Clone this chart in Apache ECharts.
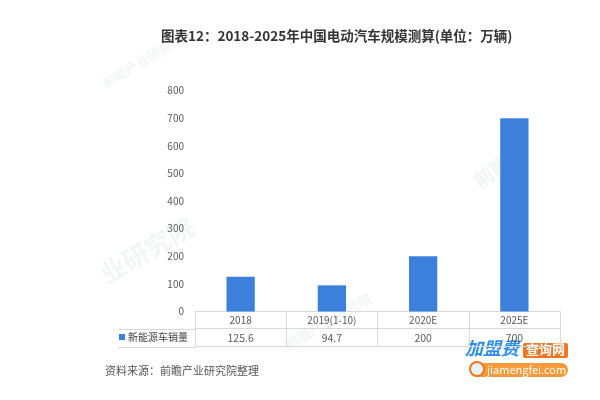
<!DOCTYPE html>
<html>
<head>
<meta charset="utf-8">
<script src="https://cdn.jsdelivr.net/npm/echarts@6/dist/echarts.min.js"></script>
<style>
  html, body { margin: 0; padding: 0; background: #fff; }
  #chart { width: 600px; height: 400px; }
</style>
</head>
<body>
<div id="chart"></div>
<script>
// Categories (years) and EV sales, unit: 10k vehicles
const categories = ['2018', '2019(1-10)', '2020E', '2025E'];
const sales = [125.6, 94.7, 200, 700];
const seriesName = '新能源车销量';
const yTicks = { min: 0, max: 800, interval: 100 };

const FONT = '"Noto Sans CJK SC", "Noto Sans", sans-serif';
const GRAY = '#595959';
const LINE = '#d9d9d9';
const BLUE = '#3d80dc';

const chart = echarts.init(document.getElementById('chart'));

// faint publisher watermark texts
function watermark(x, y, text, size, rot) {
  return {
    type: 'text', x: x, y: y, rotation: rot * Math.PI / 180, silent: true,
    style: { text: text, font: 'bold ' + size + 'px ' + FONT, fill: 'rgba(140,150,165,0.10)' }
  };
}

chart.setOption({
  backgroundColor: '#fff',
  title: {
    text: '图表12：2018-2025年中国电动汽车规模测算(单位：万辆)',
    left: 156, top: 24,
    textStyle: { fontFamily: FONT, fontSize: 13.5, fontWeight: 'bold', color: '#333' }
  },
  legend: {
    data: [seriesName],
    left: 119, top: 332, padding: 0,
    icon: 'rect', itemWidth: 6, itemHeight: 6, itemGap: 4,
    textStyle: { fontFamily: FONT, fontSize: 10, color: '#404040', padding: [0, 0, 0, -2] }
  },
  grid: { left: 195, right: 40, top: 90.5, bottom: 88.5 },
  xAxis: [
    {
      // header row of the data table: category labels
      type: 'category', data: categories, position: 'bottom',
      axisLine: { show: true, lineStyle: { color: LINE } },
      axisTick: { show: true, length: 35, alignWithLabel: false, interval: 0, lineStyle: { color: LINE } },
      axisLabel: { margin: 4, fontSize: 10, color: GRAY, fontFamily: FONT, interval: 0 }
    },
    {
      // value row of the data table
      type: 'category', data: categories, position: 'bottom', offset: 17,
      axisLine: { show: true, lineStyle: { color: LINE } },
      axisTick: { show: false },
      axisLabel: {
        margin: 4, fontSize: 10.5, color: GRAY, fontFamily: FONT, interval: 0,
        formatter: (v, i) => String(sales[i])
      }
    },
    {
      // bottom border of the table
      type: 'category', data: categories, position: 'bottom', offset: 35,
      axisLine: { show: true, lineStyle: { color: LINE } },
      axisTick: { show: false }, axisLabel: { show: false }
    }
  ],
  yAxis: {
    type: 'value', min: yTicks.min, max: yTicks.max, interval: yTicks.interval,
    axisLine: { show: false }, axisTick: { show: false }, splitLine: { show: false },
    axisLabel: { margin: 11, fontSize: 10, color: GRAY, fontFamily: FONT }
  },
  series: [{
    name: seriesName, type: 'bar', xAxisIndex: 0, data: sales,
    barWidth: '31%', itemStyle: { color: BLUE }
  }],
  graphic: [
    watermark(100, 78, '前瞻产业研究院', 13, 30),
    watermark(95, 265, '业研究院', 26, 30),
    watermark(282, 340, '前瞻产业研究院', 14, 30),
    watermark(470, 175, '前瞻', 20, 35),
    // legend cell borders to the left of the table columns
    { type: 'line', silent: true, shape: { x1: 118, y1: 329.5, x2: 195, y2: 329.5 }, style: { stroke: LINE, lineWidth: 1 } },
    { type: 'line', silent: true, shape: { x1: 118, y1: 347.5, x2: 195, y2: 347.5 }, style: { stroke: LINE, lineWidth: 1 } },
    // source note
    {
      type: 'text', x: 105, y: 365,
      style: { text: '资料来源：前瞻产业研究院整理', font: '11px ' + FONT, fill: '#555' }
    },
    // site badge, bottom right
    {
      type: 'group', x: 0, y: 0, children: [
        { type: 'text', x: 465, y: 339, style: { text: '加盟费', font: 'italic bold 18px ' + FONT, fill: '#2f8fe8' } },
        { type: 'rect', shape: { x: 523, y: 343, width: 45, height: 15, r: 2 }, style: { fill: '#f2761e' } },
        { type: 'text', x: 526, y: 343, style: { text: '查询网', font: 'bold 13px ' + FONT, fill: '#fff' } },
        { type: 'rect', shape: { x: 470, y: 363, width: 98, height: 14, r: 7 }, style: { fill: '#f59a3a' } },
        { type: 'circle', shape: { cx: 477, cy: 369, r: 7 }, style: { fill: '#e8f2fb', stroke: '#f2761e', lineWidth: 2 } },
        { type: 'text', x: 487, y: 364, style: { text: 'jiamengfei.com', font: '11px ' + FONT, fill: '#fff' } }
      ]
    }
  ]
});
</script>
</body>
</html>
